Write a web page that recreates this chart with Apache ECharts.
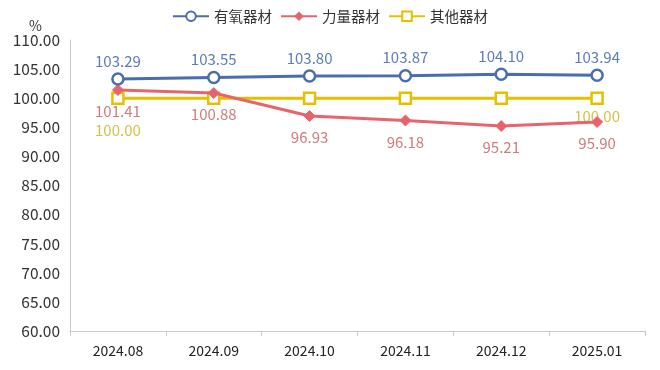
<!DOCTYPE html>
<html><head><meta charset="utf-8">
<script src="https://cdn.jsdelivr.net/npm/echarts@6/dist/echarts.min.js"></script>
<style>html,body{margin:0;padding:0;background:#fff}#c{width:660px;height:370px}</style>
</head><body><div id="c"></div>
<script>
const categories = ['2024.08','2024.09','2024.10','2024.11','2024.12','2025.01'];
const aerobic = [103.29,103.55,103.80,103.87,104.10,103.94];
const strength = [101.41,100.88,96.93,96.18,95.21,95.90];
const other = [100.00,100.00,100.00,100.00,100.00,100.00];
const seriesNames = ['有氧器材','力量器材','其他器材'];
const yTicks = {min:60, max:110, interval:5};

const font = '"Noto Sans CJK SC", "Noto Sans", sans-serif';
const chart = echarts.init(document.getElementById('c'));
const fmt = p => Number(p.value).toFixed(2);

const otherData = other.map((v,i) => {
  if (i === 0) return {value:v, label:{show:true, position:'bottom', distance:18, formatter:fmt}};
  if (i === other.length-1) return {value:v, label:{show:true, position:'bottom', distance:4, formatter:fmt}};
  return {value:v};
});

chart.setOption({
  animation:false,
  textStyle:{fontFamily:font},
  legend:{
    top:4, left:'center', itemGap:8, itemWidth:36, itemHeight:12,
    textStyle:{fontSize:14.5, color:'#333', fontFamily:font},
    data:seriesNames
  },
  grid:{left:70, right:15, top:40, bottom:39, containLabel:false},
  xAxis:{
    type:'category', data:categories, boundaryGap:true,
    axisLine:{lineStyle:{color:'#c8c8c8', width:1}},
    axisTick:{show:true, length:5, lineStyle:{color:'#c8c8c8'}},
    axisLabel:{color:'#222', fontSize:14, margin:13, fontFamily:font}
  },
  yAxis:{
    type:'value', min:yTicks.min, max:yTicks.max, interval:yTicks.interval,
    name:'%', nameLocation:'end', nameGap:5,
    nameTextStyle:{color:'#333', fontSize:14, align:'right', padding:[0,28,0,0]},
    axisLine:{show:true, lineStyle:{color:'#c8c8c8'}},
    axisTick:{show:false},
    splitLine:{show:false},
    axisLabel:{color:'#333', fontSize:15.5, margin:10, formatter:v => v.toFixed(2), fontFamily:font}
  },
  series:[
    {
      name:seriesNames[0], type:'line', data:aerobic,
      symbol:'circle', symbolSize:11, showAllSymbol:true,
      lineStyle:{color:'#4a6db0', width:3},
      itemStyle:{color:'#fff', borderColor:'#4a6db0', borderWidth:2.5},
      label:{show:true, position:'top', distance:4, color:'#5b7cb5', fontSize:15, formatter:fmt},
      z:3
    },
    {
      name:seriesNames[1], type:'line', data:strength,
      symbol:'diamond', symbolSize:11,
      lineStyle:{color:'#e8646c', width:3},
      itemStyle:{color:'#e8646c', borderColor:'#e8646c'},
      label:{show:true, position:'bottom', distance:8, color:'#d27a7c', fontSize:15, formatter:fmt},
      z:2
    },
    {
      name:seriesNames[2], type:'line', data:otherData,
      symbol:'rect', symbolSize:11,
      lineStyle:{color:'#e6bf00', width:3},
      itemStyle:{color:'#fff', borderColor:'#e6bf00', borderWidth:2.5},
      label:{show:false, color:'#d6c045', fontSize:15},
      z:1
    }
  ]
});
</script></body></html>
